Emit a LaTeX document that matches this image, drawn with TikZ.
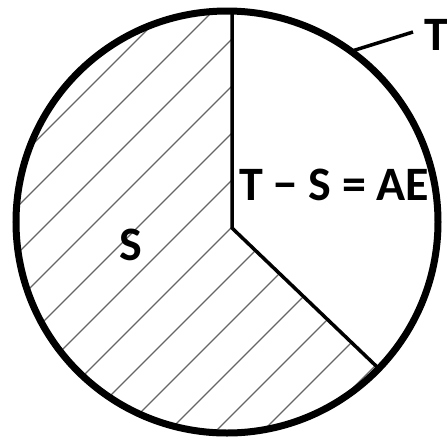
\documentclass[tikz,border=0pt]{standalone}
\usepackage{fontspec}
\setmainfont{Carlito}
\usetikzlibrary{calc}

\begin{document}
\begin{tikzpicture}[x=1pt, y=1pt,
  rim/.style={line width=7pt},
  cut/.style={line width=3.5pt},
  hatch/.style={line width=1.2pt, black!60},
  lbl/.style={inner sep=0pt, font=\bfseries\fontsize{48}{48}\selectfont}]
  \useasboundingbox (0,0) rectangle (447,-437);
  \coordinate (ctr) at (227,-222);
  \coordinate (hub) at (232,-228);
  \coordinate (up) at (232,-11);
  \coordinate (rim1) at ($(ctr)+(-44:211)$);
  \coordinate (tip) at ($(ctr)+(54:211)$);
  % hatched part S
  \begin{scope}
    \clip (ctr) circle (211);
    \clip (hub) -- (232,10) -- (-10,10) -- (-10,-460) -- (474,-460) -- cycle;
    \foreach \k in {-12,...,4}
      \draw[hatch] (0,-271+47*\k) -- (447,176+47*\k);
  \end{scope}
  \draw[rim] (ctr) circle (211);
  \draw[cut] (up) -- (hub) -- (rim1);
  \node[lbl, anchor=base west] (tot) at (424,-50) {T};
  \draw[cut] (tip) -- (413,-32) coordinate (lead);
  \node[lbl, anchor=base west] (eq) at (239,-200) {T − S = AE};
  \node[lbl, anchor=base] (part) at (131,-260) {S};
\end{tikzpicture}
\end{document}
